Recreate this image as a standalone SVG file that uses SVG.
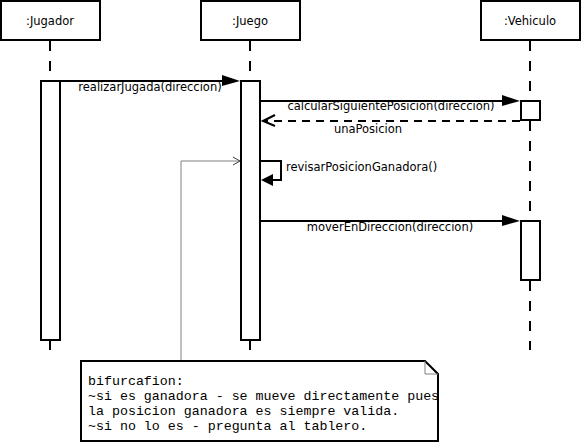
<svg xmlns="http://www.w3.org/2000/svg" width="582" height="444" viewBox="0 0 582 444">
<style>
.box{fill:#fff;stroke:#000;stroke-width:2}
.life{stroke:#000;stroke-width:2;stroke-dasharray:10,10;fill:none}
.act{fill:#fff;stroke:#000;stroke-width:2}
.msg{stroke:#000;stroke-width:2;fill:none}
.ret{stroke:#000;stroke-width:2;fill:none;stroke-dasharray:8,6}
.t{font-family:"DejaVu Sans",sans-serif;font-size:11.5px;fill:#000}
.m{font-family:"Liberation Mono","Courier New",monospace;font-size:13.3px;fill:#000}
</style>
<rect width="582" height="444" fill="#fff"/>
<g id="lifelines">
<line class="life" x1="50" y1="41" x2="50" y2="350"/>
<line class="life" x1="250" y1="41" x2="250" y2="350"/>
<line class="life" x1="530" y1="41" x2="530" y2="350"/>
</g>
<g id="jugador">
<rect class="box" x="1" y="1" width="99" height="39"/>
<text class="t" x="50" y="25" text-anchor="middle">:Jugador</text>
<rect class="act" x="41" y="81" width="19" height="259"/>
</g>
<g id="juego">
<rect class="box" x="201" y="1" width="99" height="39"/>
<text class="t" x="250" y="25" text-anchor="middle">:Juego</text>
<rect class="act" x="241" y="81" width="19" height="259"/>
</g>
<g id="vehiculo">
<rect class="box" x="481" y="1" width="99" height="39"/>
<text class="t" x="530" y="25" text-anchor="middle">:Vehiculo</text>
<rect class="act" x="521" y="101" width="19" height="19"/>
<rect class="act" x="521" y="221" width="19" height="59"/>
</g>
<g id="connectors">
<line class="msg" x1="60" y1="81" x2="225" y2="81"/>
<polygon points="222,75 240,81 222,86" fill="#000"/>
<text class="t" x="150" y="91" text-anchor="middle">realizarJugada(direccion)</text>
<line class="msg" x1="260" y1="101" x2="505" y2="101"/>
<polygon points="502,95 520,101 502,106" fill="#000"/>
<text class="t" x="391" y="110" text-anchor="middle">calcularSiguientePosicion(direccion)</text>
<line class="ret" x1="520" y1="121" x2="264" y2="121"/>
<polyline class="msg" points="275,115 263,121 275,126"/>
<text class="t" x="368" y="133" text-anchor="middle">unaPosicion</text>
<polyline class="msg" points="260,161 281,161 281,180 272,180"/>
<polygon points="273,174 261,180 273,186" fill="#000"/>
<text class="t" x="286" y="171">revisarPosicionGanadora()</text>
<line class="msg" x1="260" y1="221" x2="505" y2="221"/>
<polygon points="502,215 520,221 502,226" fill="#000"/>
<text class="t" x="390" y="231" text-anchor="middle">moverEnDireccion(direccion)</text>
<polyline points="181,361 181,161 240,161" fill="none" stroke="#808080" stroke-width="1"/>
<polyline points="233,157 240,161 233,165" fill="none" stroke="#404040" stroke-width="1"/>
</g>
<g id="note">
<polygon points="81,361 425,361 438,374 438,441 81,441" fill="#fff" stroke="#000" stroke-width="2"/>
<polyline points="425,361 425,374 438,374" fill="none" stroke="#808080" stroke-width="1"/>
<text class="m" x="88" y="385">bifurcafion:</text>
<text class="m" x="88" y="400">~si es ganadora - se mueve directamente pues</text>
<text class="m" x="88" y="415">la posicion ganadora es siempre valida.</text>
<text class="m" x="88" y="430">~si no lo es - pregunta al tablero.</text>
</g>
</svg>
